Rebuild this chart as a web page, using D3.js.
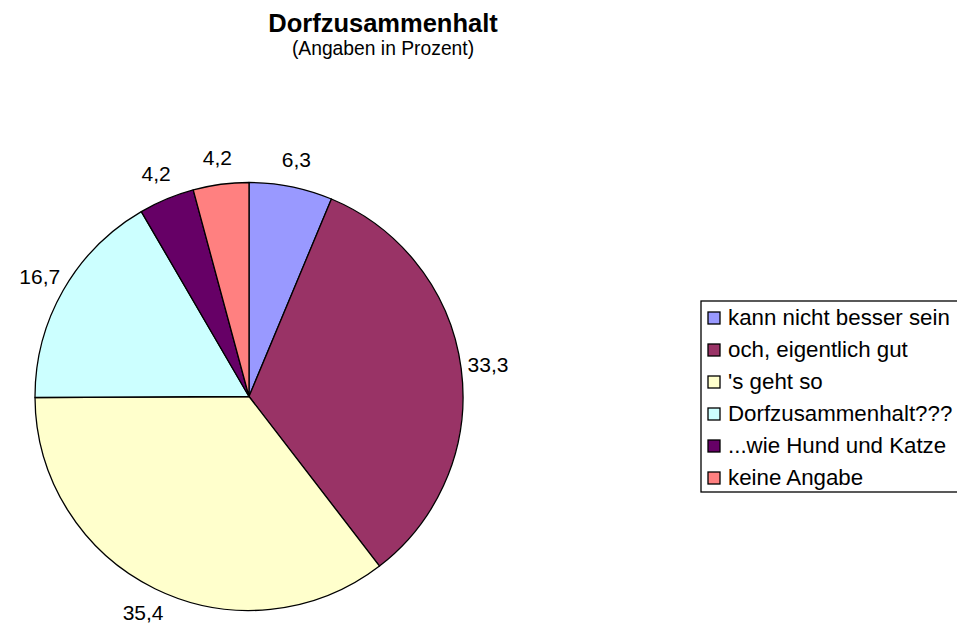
<!DOCTYPE html>
<html lang="de">
<head>
    <meta charset="UTF-8">
    <title>Dorfzusammenhalt</title>
    <script src="https://d3js.org/d3.v7.min.js"></script>
    <style>
        body {
            margin: 0;
            background: #fff;
        }
        text {
            font-family: "Liberation Sans", Arial, sans-serif;
            fill: #000;
        }
    </style>
</head>
<body>
    <svg id="chart" width="957" height="625"></svg>

    <script>
        // data
        const categories = ['kann nicht besser sein', 'och, eigentlich gut', "'s geht so",
            'Dorfzusammenhalt???', '...wie Hund und Katze', 'keine Angabe'];
        const values = [6.3, 33.3, 35.4, 16.7, 4.2, 4.2];
        const valueLabels = ['6,3', '33,3', '35,4', '16,7', '4,2', '4,2'];
        const colors = ['#9999ff', '#993366', '#ffffcc', '#ccffff', '#660066', '#ff8080'];

        let svg = d3.select('#chart');

        // title
        svg.append('text').attr('x', 383).attr('y', 32)
            .attr('text-anchor', 'middle').style('font-weight', 'bold').style('font-size', '25.5px')
            .text('Dorfzusammenhalt');
        svg.append('text').attr('x', 383).attr('y', 55)
            .attr('text-anchor', 'middle').style('font-size', '19.3px')
            .text('(Angaben in Prozent)');

        // pie
        let radius = 214;
        let color = d3.scaleOrdinal().domain(categories).range(colors);
        let pie = d3.pie().sort(null).value((d, i) => values[i]);
        let arc = d3.arc().innerRadius(0).outerRadius(radius);
        let labelArc = d3.arc().innerRadius(radius + 27).outerRadius(radius + 27);
        let arcs = pie(categories);

        let g = svg.append('g').attr('transform', 'translate(249 396.5)');
        g.selectAll('path').data(arcs).enter().append('path')
            .attr('d', arc)
            .style('fill', (d) => color(d.data))
            .style('stroke', '#000')
            .style('stroke-width', 1.3)
            .style('stroke-linejoin', 'round');

        g.selectAll('text').data(arcs).enter().append('text')
            .attr('transform', (d) => 'translate(' + labelArc.centroid(d) + ')')
            .attr('text-anchor', 'middle')
            .attr('dy', '0.34em')
            .style('font-size', '21px')
            .text((d, i) => valueLabels[i]);

        // legend
        let legend = svg.append('g').attr('class', 'legend');
        legend.append('rect')
            .attr('x', 701).attr('y', 301).attr('width', 280).attr('height', 191)
            .style('fill', '#fff').style('stroke', '#000').style('stroke-width', 1.3);

        let y = d3.scalePoint().domain(categories).range([325, 485]);

        legend.selectAll('.swatch').data(categories).enter().append('rect')
            .attr('class', 'swatch')
            .attr('x', 708).attr('y', (d) => y(d) - 13)
            .attr('width', 12).attr('height', 12)
            .style('fill', (d) => color(d))
            .style('stroke', '#000').style('stroke-width', 1.3);

        legend.selectAll('.label').data(categories).enter().append('text')
            .attr('class', 'label')
            .attr('x', 728).attr('y', (d) => y(d))
            .style('font-size', '22.3px')
            .text((d) => d);
    </script>
</body>
</html>
